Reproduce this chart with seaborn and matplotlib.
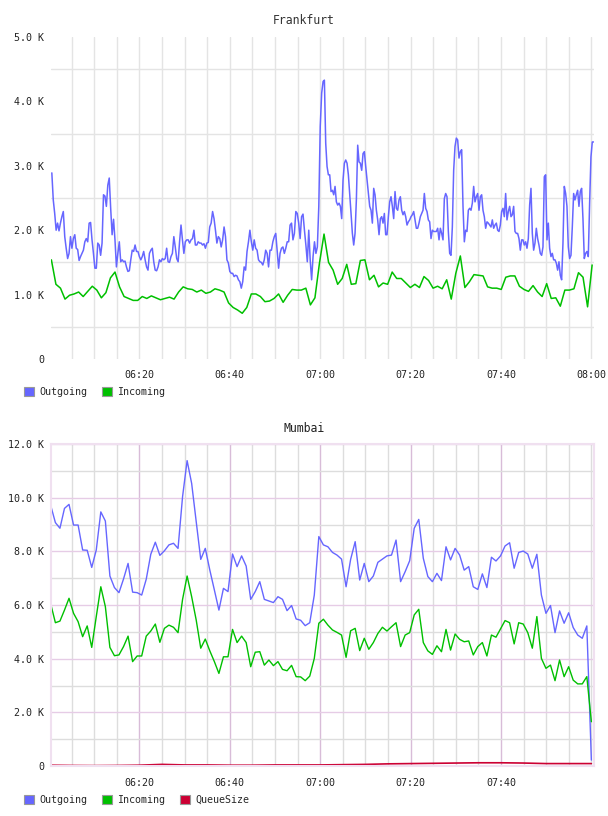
import pandas as pd
import matplotlib
matplotlib.use('Agg')
import matplotlib.pyplot as plt
import matplotlib.dates as mdates
from matplotlib.patches import Patch
from matplotlib.ticker import MultipleLocator, FuncFormatter
import seaborn as sns

# ---- data (K units) ----
# Frankfurt outgoing, first hour (06:00 - 07:00)
fra_out_a = [
    2.89, 2.47, 2.26, 2.00, 2.11, 1.99, 2.11, 2.21, 2.29, 1.90, 1.72, 1.56, 1.64, 1.90, 1.72, 1.87,
    1.93, 1.72, 1.70, 1.53, 1.59, 1.64, 1.69, 1.82, 1.87, 1.82, 2.11, 2.12, 1.85, 1.64, 1.41, 1.41,
    1.80, 1.77, 1.61, 1.80, 2.55, 2.53, 2.37, 2.70, 2.81, 2.34, 1.93, 2.17, 1.85, 1.43, 1.64, 1.82,
    1.51, 1.54, 1.51, 1.52, 1.43, 1.36, 1.37, 1.54, 1.69, 1.67, 1.77, 1.67, 1.67, 1.59, 1.54, 1.59,
    1.67, 1.54, 1.43, 1.38, 1.64, 1.69, 1.72, 1.51, 1.38, 1.37, 1.43, 1.54, 1.51, 1.56, 1.54, 1.56,
    1.72, 1.51, 1.50, 1.59, 1.64, 1.90, 1.74, 1.56, 1.51, 1.82, 2.08, 1.85, 1.64, 1.82, 1.85, 1.85,
    1.80, 1.85, 1.87, 2.00, 1.77, 1.77, 1.82, 1.80, 1.80, 1.77, 1.79, 1.72, 1.80, 1.81, 2.05, 2.11,
    2.29, 2.18, 2.00, 1.80, 1.90, 1.87, 1.74, 1.85, 2.05, 1.90, 1.54, 1.49, 1.36, 1.33, 1.33, 1.28,
    1.30, 1.29, 1.23, 1.20, 1.10, 1.20, 1.43, 1.38, 1.67, 1.82, 2.00, 1.82, 1.69, 1.85, 1.72, 1.69,
    1.54, 1.51, 1.50, 1.46, 1.54, 1.69, 1.64, 1.43, 1.69, 1.69, 1.82, 1.90, 1.95, 1.69, 1.41, 1.64,
    1.72, 1.74, 1.64, 1.72, 1.82, 1.82, 2.08, 2.11, 1.85, 1.95, 2.29, 2.26, 2.11, 1.87, 2.21, 2.25,
    2.00, 1.77, 1.51, 2.00, 1.54, 1.23, 1.59, 1.82, 1.64, 1.74, 2.37, 3.61, 4.13, 4.31,
]
# Frankfurt outgoing, second hour (07:00 - 08:00)
fra_out_b = [
    4.33, 3.35, 2.99, 2.86, 2.86, 2.60, 2.62, 2.55, 2.68, 2.44, 2.39, 2.42, 2.37, 2.18, 2.78, 3.04,
    3.09, 3.04, 2.86, 2.57, 2.26, 1.95, 1.77, 1.95, 2.47, 3.32, 3.06, 3.04, 2.93, 3.19, 3.22, 2.99,
    2.78, 2.57, 2.37, 2.31, 2.11, 2.65, 2.55, 2.31, 2.16, 1.93, 2.18, 2.21, 2.11, 2.26, 1.93, 1.93,
    2.21, 2.44, 2.52, 2.37, 2.18, 2.60, 2.34, 2.31, 2.47, 2.52, 2.31, 2.24, 2.29, 2.21, 2.08, 2.13,
    2.16, 2.21, 2.24, 2.29, 2.16, 2.03, 2.03, 2.11, 2.21, 2.26, 2.31, 2.57, 2.34, 2.29, 2.16, 2.13,
    1.87, 2.00, 1.98, 1.98, 1.98, 2.03, 1.85, 2.03, 1.95, 1.85, 2.49, 2.57, 2.52, 1.98, 1.64, 1.61,
    2.05, 2.93, 3.30, 3.43, 3.40, 3.12, 3.22, 3.25, 2.37, 1.82, 2.00, 1.98, 2.31, 2.34, 2.31, 2.42,
    2.68, 2.44, 2.52, 2.57, 2.31, 2.52, 2.55, 2.31, 2.21, 2.03, 2.13, 2.11, 2.08, 2.05, 2.16, 2.03,
    2.08, 2.11, 2.00, 1.98, 2.08, 2.29, 2.34, 2.21, 2.57, 2.16, 2.29, 2.37, 2.21, 2.24, 2.37, 1.98,
    1.95, 1.95, 1.87, 1.69, 1.85, 1.85, 1.77, 1.82, 1.72, 1.87, 2.39, 2.65, 1.95, 1.69, 1.80, 2.03,
    1.87, 1.77, 1.64, 1.61, 1.74, 2.83, 2.86, 1.85, 2.11, 1.72, 1.59, 1.64, 1.54, 1.54, 1.49, 1.38,
    1.51, 1.30, 1.23, 1.80, 2.68, 2.57, 2.37, 1.74, 1.56, 1.61, 2.05, 2.57, 2.47, 2.55, 2.62, 2.37,
    2.60, 2.65, 2.18, 1.56, 1.64, 1.67, 1.59, 2.42, 3.14, 3.37, 3.37,
]
fra_in = [
    1.54, 1.16, 1.10, 0.93, 0.99, 1.01, 1.04, 0.97, 1.05, 1.13, 1.07, 0.95, 1.03, 1.26, 1.35, 1.12,
    0.97, 0.94, 0.91, 0.91, 0.97, 0.94, 0.98, 0.95, 0.92, 0.94, 0.96, 0.93, 1.04, 1.12, 1.09, 1.08,
    1.04, 1.07, 1.02, 1.04, 1.09, 1.07, 1.04, 0.87, 0.80, 0.76, 0.71, 0.80, 1.01, 1.01, 0.97, 0.89,
    0.90, 0.94, 1.01, 0.88, 0.99, 1.08, 1.07, 1.07, 1.10, 0.84, 0.95, 1.49,
    1.94, 1.50, 1.38, 1.16, 1.25, 1.47, 1.16, 1.17, 1.53, 1.54, 1.23, 1.30, 1.12, 1.18, 1.16, 1.35,
    1.25, 1.25, 1.18, 1.11, 1.16, 1.11, 1.28, 1.22, 1.10, 1.13, 1.09, 1.23, 0.93, 1.33, 1.60, 1.11,
    1.20, 1.31, 1.30, 1.29, 1.12, 1.10, 1.10, 1.08, 1.27, 1.29, 1.29, 1.13, 1.08, 1.05, 1.14, 1.04,
    0.97, 1.17, 0.94, 0.95, 0.82, 1.07, 1.07, 1.09, 1.34, 1.27, 0.81, 1.46,
]

mum_out = [
    9.69, 9.07, 8.86, 9.60, 9.75, 8.98, 8.98, 8.05, 8.04, 7.40, 8.05, 9.47, 9.13, 7.08, 6.65, 6.46,
    6.97, 7.55, 6.48, 6.46, 6.37, 6.96, 7.89, 8.34, 7.85, 8.02, 8.24, 8.30, 8.11, 10.04, 11.38, 10.53,
    9.11, 7.70, 8.11, 7.30, 6.56, 5.81, 6.62, 6.50, 7.90, 7.43, 7.83, 7.45, 6.21, 6.50, 6.87, 6.21,
    6.15, 6.09, 6.31, 6.21, 5.79, 5.98, 5.48, 5.43, 5.23, 5.34, 6.37, 8.55,
    8.24, 8.17, 7.96, 7.86, 7.71, 6.68, 7.70, 8.36, 6.93, 7.55, 6.87, 7.08, 7.59, 7.71, 7.83, 7.86,
    8.42, 6.87, 7.24, 7.65, 8.86, 9.19, 7.74, 7.06, 6.87, 7.18, 6.91, 8.17, 7.68, 8.11, 7.86, 7.30,
    7.43, 6.68, 6.58, 7.16, 6.65, 7.78, 7.64, 7.83, 8.20, 8.32, 7.37, 7.96, 8.01, 7.90, 7.37, 7.89,
    6.37, 5.69, 5.98, 4.97, 5.78, 5.32, 5.71, 5.16, 4.88, 4.76, 5.22, 0.22,
]
mum_in = [
    6.02, 5.34, 5.40, 5.81, 6.25, 5.69, 5.38, 4.82, 5.22, 4.42, 5.57, 6.68, 5.94, 4.42, 4.11, 4.14,
    4.45, 4.84, 3.89, 4.10, 4.10, 4.84, 5.03, 5.29, 4.61, 5.13, 5.25, 5.17, 4.97, 6.21, 7.08, 6.31,
    5.44, 4.39, 4.73, 4.29, 3.89, 3.45, 4.07, 4.07, 5.09, 4.60, 4.84, 4.60, 3.70, 4.24, 4.26, 3.76,
    3.95, 3.74, 3.89, 3.60, 3.55, 3.75, 3.33, 3.32, 3.18, 3.35, 4.01, 5.32,
    5.47, 5.25, 5.07, 4.98, 4.88, 4.05, 5.04, 5.13, 4.30, 4.76, 4.35, 4.60, 4.94, 5.17, 5.03, 5.19,
    5.34, 4.45, 4.88, 4.97, 5.63, 5.84, 4.60, 4.29, 4.16, 4.48, 4.26, 5.09, 4.32, 4.92, 4.72, 4.63,
    4.66, 4.14, 4.45, 4.60, 4.10, 4.88, 4.80, 5.11, 5.42, 5.34, 4.55, 5.34, 5.29, 4.97, 4.39, 5.57,
    4.01, 3.64, 3.76, 3.18, 3.95, 3.33, 3.70, 3.20, 3.06, 3.06, 3.33, 1.65,
]
queue_times = ['06:00', '06:05', '06:10', '06:15', '06:20', '06:25', '06:30', '06:35', '06:40',
               '06:45', '06:50', '06:55', '07:00', '07:05', '07:10', '07:15', '07:20', '07:25',
               '07:30', '07:35', '07:40', '07:45', '07:50', '07:55', '08:00']
queue_size = [30, 20, 15, 20, 30, 60, 40, 40, 30, 30, 40, 40, 40, 50, 60, 80, 90, 100,
              110, 120, 120, 110, 90, 90, 90]

DAY = '2024-01-01 '
fra_out = fra_out_a + fra_out_b
fra_out_t = pd.date_range(DAY + '06:00:36', DAY + '07:00:38', periods=len(fra_out_a)).append(
    pd.date_range(DAY + '07:00:55', DAY + '08:00:30', periods=len(fra_out_b)))
fra_in_t = pd.date_range(DAY + '06:00:30', DAY + '08:00:10', periods=len(fra_in))
mum_t = pd.date_range(DAY + '06:00:23', DAY + '08:00:00', periods=len(mum_out))
queue_t = pd.to_datetime([DAY + t for t in queue_times])

BLUE, GREEN, RED = '#6666ff', '#00c000', '#cc0033'

sns.set_style('white')
plt.rcParams['font.family'] = ['DejaVu Sans Mono']

fig = plt.figure(figsize=(6.08, 8.16), dpi=100)
ax1 = fig.add_axes([51 / 608, 1 - 359 / 816, 543 / 608, 322 / 816])
ax2 = fig.add_axes([51 / 608, 1 - 766 / 816, 543 / 608, 322 / 816])

xmin = pd.Timestamp(DAY + '06:00:25')
xmax = pd.Timestamp(DAY + '08:00:35')


def kfmt(v, pos):
    return '0' if v == 0 else f'{v / 1000:.1f} K'


# ---- Frankfurt ----
sns.lineplot(x=fra_out_t, y=[v * 1000 for v in fra_out], ax=ax1, color=BLUE, lw=1.1)
sns.lineplot(x=fra_in_t, y=[v * 1000 for v in fra_in], ax=ax1, color=GREEN, lw=1.1)
ax1.set_ylim(0, 5000)
ax1.set_xlim(xmin, xmax)
ax1.yaxis.set_major_locator(MultipleLocator(1000))
ax1.yaxis.set_minor_locator(MultipleLocator(500))
ax1.yaxis.set_major_formatter(FuncFormatter(kfmt))
ax1.xaxis.set_major_locator(mdates.MinuteLocator(byminute=[0, 20, 40]))
ax1.xaxis.set_minor_locator(mdates.MinuteLocator(byminute=range(0, 60, 5)))
ax1.xaxis.set_major_formatter(mdates.DateFormatter('%H:%M'))
ax1.grid(False)
ax1.grid(True, which='minor', axis='y', color='#e4e4e4', lw=1)
ax1.grid(True, which='both', axis='x', color='#e4e4e4', lw=1)
ax1.set_axisbelow(True)
for s in ax1.spines.values():
    s.set_visible(False)
ax1.tick_params(axis='both', which='both', length=0, labelsize=7.2, colors='#222222')
ax1.tick_params(axis='y', pad=5)
ax1.tick_params(axis='x', pad=8)
ax1.set_xlabel('')
ax1.set_ylabel('')

# ---- Mumbai ----
sns.lineplot(x=mum_t, y=[v * 1000 for v in mum_out], ax=ax2, color=BLUE, lw=1.0)
sns.lineplot(x=mum_t, y=[v * 1000 for v in mum_in], ax=ax2, color=GREEN, lw=1.0)
sns.lineplot(x=queue_t, y=queue_size, ax=ax2, color=RED, lw=1.2)
ax2.set_ylim(0, 12000)
ax2.set_xlim(xmin, xmax)
ax2.yaxis.set_major_locator(MultipleLocator(2000))
ax2.yaxis.set_minor_locator(MultipleLocator(1000))
ax2.yaxis.set_major_formatter(FuncFormatter(kfmt))
ax2.set_xticks(pd.to_datetime([DAY + t for t in ['06:20', '06:40', '07:00', '07:20', '07:40']]))
ax2.xaxis.set_minor_locator(mdates.MinuteLocator(byminute=range(0, 60, 5)))
ax2.xaxis.set_major_formatter(mdates.DateFormatter('%H:%M'))
ax2.grid(False)
ax2.grid(True, which='minor', color='#dddddd', lw=1)
ax2.grid(True, which='major', axis='y', color='#e6cce6', lw=1)
ax2.grid(True, which='major', axis='x', color='#d8bcd8', lw=1)
ax2.set_axisbelow(True)
for s in ax2.spines.values():
    s.set_color('#f0e0f0')
    s.set_linewidth(1.5)
ax2.tick_params(axis='both', which='both', length=0, labelsize=7.2, colors='#222222')
ax2.tick_params(axis='y', pad=5)
ax2.tick_params(axis='x', pad=9)
ax2.set_xlabel('')
ax2.set_ylabel('')

# ---- titles ----
fig.text(0.5, 1 - 20 / 816, 'Frankfurt', ha='center', va='center', fontsize=8.3, color='#333333')
fig.text(0.5, 1 - 429 / 816, 'Mumbai', ha='center', va='center', fontsize=8.3, color='#222222')


# ---- legends ----
def box(c):
    return Patch(facecolor=c, edgecolor='#999999', lw=0.8)


leg_kw = dict(loc='center left', frameon=False, ncol=3, handlelength=1.0, handleheight=1.0,
              handletextpad=0.5, columnspacing=1.5, borderpad=0, borderaxespad=0,
              prop={'size': 7.2})
fig.legend([box(BLUE), box(GREEN)], ['Outgoing', 'Incoming'],
           bbox_to_anchor=(24 / 608, 1 - 392 / 816), **leg_kw)
fig.legend([box(BLUE), box(GREEN), box(RED)], ['Outgoing', 'Incoming', 'QueueSize'],
           bbox_to_anchor=(24 / 608, 1 - 800 / 816), **leg_kw)

fig.savefig('out.png', dpi=100, facecolor='white')
